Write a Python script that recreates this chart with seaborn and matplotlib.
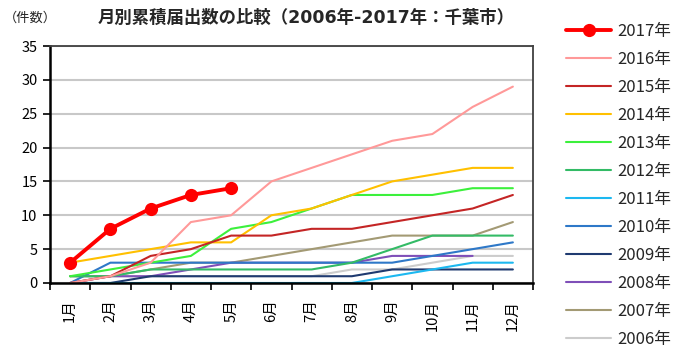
import numpy as np
import pandas as pd
import matplotlib
matplotlib.use("Agg")
import matplotlib.pyplot as plt
import seaborn as sns

months = ["1月", "2月", "3月", "4月", "5月", "6月", "7月", "8月", "9月", "10月", "11月", "12月"]
y_ticks = [0, 5, 10, 15, 20, 25, 30, 35]

y2017 = [3, 8, 11, 13, 14]
y2016 = [0, 1, 3, 9, 10, 15, 17, 19, 21, 22, 26, 29]
y2015 = [0, 1, 4, 5, 7, 7, 8, 8, 9, 10, 11, 13]
y2014 = [3, 4, 5, 6, 6, 10, 11, 13, 15, 16, 17, 17]
y2013 = [1, 2, 3, 4, 8, 9, 11, 13, 13, 13, 14, 14]
y2012 = [1, 1, 2, 2, 2, 2, 2, 3, 5, 7, 7, 7]
y2011 = [0, 0, 0, 0, 0, 0, 0, 0, 1, 2, 3, 3]
y2010 = [0, 3, 3, 3, 3, 3, 3, 3, 3, 4, 5, 6]
y2009 = [0, 0, 1, 1, 1, 1, 1, 1, 2, 2, 2, 2]
y2008 = [0, 1, 1, 2, 3, 3, 3, 3, 4, 4, 4]
y2007 = [1, 1, 2, 3, 3, 4, 5, 6, 7, 7, 7, 9]
y2006 = [1, 1, 1, 1, 1, 1, 1, 2, 2, 3, 4, 4]

labels = ["2017年", "2016年", "2015年", "2014年", "2013年", "2012年",
          "2011年", "2010年", "2009年", "2008年", "2007年", "2006年"]
values = [y2017, y2016, y2015, y2014, y2013, y2012,
          y2011, y2010, y2009, y2008, y2007, y2006]
colors = ["#FF0000", "#FF9999", "#C42525", "#FFC000", "#3CF03C", "#33BB66",
          "#1CB8F0", "#2E78C8", "#1F3A70", "#7F4FB8", "#A39A74", "#CCCCCC"]

sns.set_theme(style="white")
plt.rcParams["font.family"] = ["Noto Sans CJK JP", "DejaVu Sans"]

fig = plt.figure(figsize=(6.74, 3.47), dpi=100)
ax = fig.add_axes([50 / 674, 1 - 283 / 347, 483 / 674, 237 / 347])

for lab, vals, col in reversed(list(zip(labels, values, colors))):
    df = pd.DataFrame({"m": np.arange(len(vals)), "v": vals})
    if lab == "2017年":
        sns.lineplot(data=df, x="m", y="v", ax=ax, color=col, lw=2.8,
                     marker="o", markersize=9.5, markeredgewidth=0, label=lab)
    else:
        sns.lineplot(data=df, x="m", y="v", ax=ax, color=col, lw=1.5, label=lab)

ax.set_xlim(-0.5, 11.5)
ax.set_ylim(0, 35)
ax.set_yticks(y_ticks)
ax.set_yticklabels([str(t) for t in y_ticks], fontsize=10.5, color="black")
ax.set_xticks(np.arange(-0.5, 12, 1))
ax.set_xticklabels([])
ax.set_xticks(np.arange(12), minor=True)
ax.set_xticklabels(months, minor=True, rotation=90, fontsize=10.5, color="black")
ax.tick_params(axis="x", which="major", direction="out", length=5, width=1.2,
               color="black", bottom=True)
ax.tick_params(axis="x", which="minor", length=0, pad=12, bottom=True)
ax.tick_params(axis="y", direction="out", length=5, width=1.2, color="black",
               left=True, pad=4)
ax.set_xlabel("")
ax.set_ylabel("")
ax.yaxis.grid(True, color="#C8C8C8", lw=1.5)
ax.xaxis.grid(False)
ax.set_axisbelow(True)
for s in ["top", "right"]:
    ax.spines[s].set_color("#404040")
    ax.spines[s].set_linewidth(1.3)
for s in ["left", "bottom"]:
    ax.spines[s].set_color("black")
    ax.spines[s].set_linewidth(1.8)

handles, labs = ax.get_legend_handles_labels()
order = [labs.index(l) for l in labels]
ax.get_legend().remove()
fig.legend([handles[i] for i in order], [labs[i] for i in order],
           loc="upper left", bbox_to_anchor=(566 / 674, 1 - 23 / 347),
           frameon=False, fontsize=12, handlelength=2.7, handletextpad=0.35,
           labelspacing=0.66, borderpad=0, borderaxespad=0)

fig.text(98 / 674, 1 - 18 / 347, "月別累積届出数の比較（2006年-2017年：千葉市）",
         fontsize=12.5, fontweight="bold", ha="left", va="center",
         family=["DejaVu Sans", "Noto Sans CJK JP"])
fig.text(4 / 674, 1 - 18 / 347, "（件数）", fontsize=9.5, ha="left", va="center")

fig.savefig("out.png", dpi=100)
